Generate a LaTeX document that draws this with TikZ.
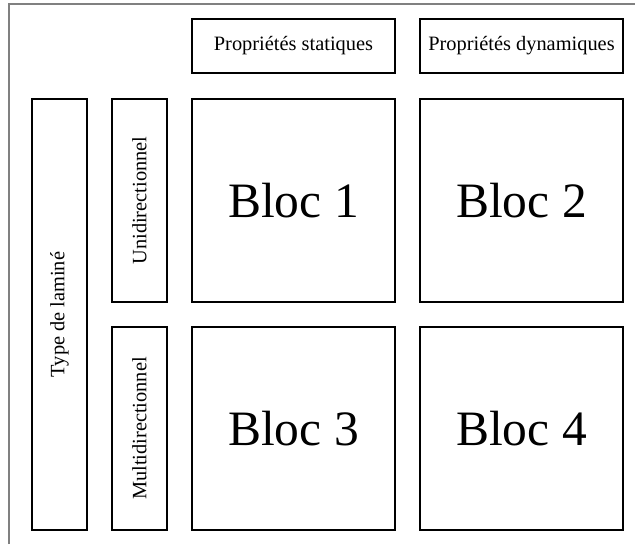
\documentclass[tikz,border=0pt]{standalone}
\usepackage{fontspec}
\setmainfont{Liberation Serif}
\begin{document}
\begin{tikzpicture}[x=1pt,y=-1pt,
  box/.style={draw=black, line width=1.8pt, inner sep=0pt, font=\fontsize{20.4}{24}\selectfont},
  hbox/.style={box, minimum width=203pt, minimum height=54pt},
  vbox/.style={box, rotate=90, minimum height=55pt},
  bloc/.style={box, minimum width=203pt, minimum height=203pt, font=\fontsize{49.5}{58}\selectfont}]
\useasboundingbox (0,0) rectangle (635,544);
\draw[gray, line width=1.2pt] (9,544) -- (9,4) -- (635,4);
\node[hbox] (ps) at (293.5,46) {Propriétés statiques};
\node[hbox] (pd) at (521.5,46) {Propriétés dynamiques};
\node[vbox, minimum width=431pt] (type) at (59.5,314.5) {Type de laminé};
\node[vbox, minimum width=203pt] (uni) at (139.5,200.5) {Unidirectionnel};
\node[vbox, minimum width=203pt] (multi) at (139.5,428.5) {Multidirectionnel};
\node[bloc] (b1) at (293.5,200.5) {Bloc 1};
\node[bloc] (b2) at (521.5,200.5) {Bloc 2};
\node[bloc] (b3) at (293.5,428.5) {Bloc 3};
\node[bloc] (b4) at (521.5,428.5) {Bloc 4};
\end{tikzpicture}
\end{document}
